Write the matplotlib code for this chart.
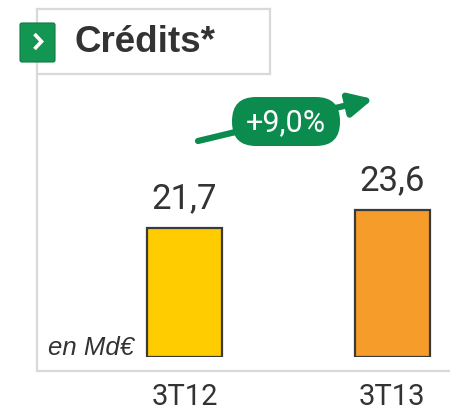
import matplotlib
matplotlib.use("Agg")
import matplotlib.pyplot as plt
from matplotlib.patches import FancyBboxPatch
from matplotlib.lines import Line2D

categories = ["3T12", "3T13"]
values = [21.7, 23.6]
value_labels = ["21,7", "23,6"]
colors = ["#FFCC00", "#F59C2B"]
title = "Crédits*"
unit = "en Md€"
growth = "+9,0%"

W, H = 450, 410
fig = plt.figure(figsize=(W / 100, H / 100), dpi=100)
NARROW = ["Roboto", "DejaVu Sans"]
SANS = ["Liberation Sans", "DejaVu Sans"]
DARK = "#333333"
GREEN = "#0B8C4E"
GRID = "#D9D9D9"

# background decoration axes in pixel coordinates
bg = fig.add_axes([0, 0, 1, 1])
bg.set_xlim(0, W)
bg.set_ylim(0, H)
bg.axis("off")
Y = lambda y: H - y

for xs, ys in [([37, 270], [10, 10]), ([270, 270], [10, 75]), ([37, 270], [75, 75]),
               ([37, 37], [10, 372]), ([37, 450], [372, 372])]:
    bg.add_line(Line2D(xs, [Y(v) for v in ys], color=GRID, lw=1.6, zorder=1))

# green icon
bg.add_patch(FancyBboxPatch((20, Y(63)), 35, 39, boxstyle="round,pad=0,rounding_size=2",
                            fc="#149653", ec="#0E7A40", lw=0.8, zorder=3))
bg.add_line(Line2D([34.5, 41.5, 34.5], [Y(35), Y(42.5), Y(50)], color="white",
                   lw=2.6, solid_joinstyle="miter", solid_capstyle="butt", zorder=4))
bg.text(75, Y(43), title, color=DARK, fontsize=26.5, fontweight="bold",
        ha="left", va="center", family=SANS, zorder=4)

# bars axes
left, right, bottom_px, top_px = 37, 450, 358, 10
base = 8.1
ppu = 9.47
bx = fig.add_axes([left / W, (H - bottom_px) / H, (right - left) / W, (bottom_px - top_px) / H])
bx.patch.set_alpha(0)
xc0, dx = 184.5, 207.5
bx.set_xlim((left - xc0) / dx, (right - xc0) / dx)
bx.set_ylim(base, base + (bottom_px - top_px) / ppu)
bx.axis("off")
xs = list(range(len(values)))
bars = bx.bar(xs, [v - base for v in values], bottom=base, width=75 / dx,
              color=colors, edgecolor="#3A3A3A", linewidth=1.6, zorder=3)
for x, v, lab in zip(xs, values, value_labels):
    bx.annotate(lab, (x, v), xytext=(0, 10), textcoords="offset points",
                ha="center", va="bottom", fontsize=25, color=DARK, family=NARROW)
for x, c in zip(xs, categories):
    bg.text(xc0 + x * dx, Y(397), c, ha="center", va="center", fontsize=21,
            color=DARK, family=NARROW)

bg.text(48, Y(348), unit, ha="left", va="center", fontsize=18.5, style="italic",
        color=DARK, family=SANS, zorder=5)

# growth arrow and badge
bg.annotate("", xy=(373, Y(100)), xytext=(198, Y(142)),
            arrowprops=dict(arrowstyle="-|>,head_length=1.4,head_width=0.7",
                            color=GREEN, lw=4.5, shrinkA=0, shrinkB=0), zorder=5)
bg.add_patch(FancyBboxPatch((232, Y(147)), 108, 49, boxstyle="round,pad=0,rounding_size=24",
                            fc=GREEN, ec="none", zorder=6))
bg.text(286, Y(123), growth, color="white", fontsize=22, ha="center", va="center",
        family=NARROW, zorder=7)

fig.savefig("out.png", dpi=100)
